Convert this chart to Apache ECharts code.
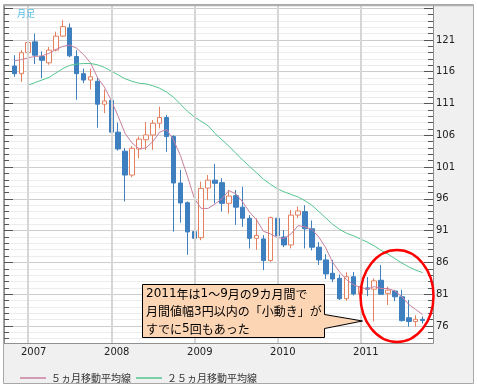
<!DOCTYPE html>
<html><head><meta charset="utf-8">
<script src="https://cdn.jsdelivr.net/npm/echarts@6/dist/echarts.min.js"></script>
<style>html,body{margin:0;padding:0;background:#fff}#c{width:477px;height:387px}</style>
</head><body><div id="c"></div>
<script>
// Months (category axis); first and last are empty padding months
const months = ['2006-10','2006-11','2006-12',
 '2007-01','2007-02','2007-03','2007-04','2007-05','2007-06','2007-07','2007-08','2007-09','2007-10','2007-11','2007-12',
 '2008-01','2008-02','2008-03','2008-04','2008-05','2008-06','2008-07','2008-08','2008-09','2008-10','2008-11','2008-12',
 '2009-01','2009-02','2009-03','2009-04','2009-05','2009-06','2009-07','2009-08','2009-09','2009-10','2009-11','2009-12',
 '2010-01','2010-02','2010-03','2010-04','2010-05','2010-06','2010-07','2010-08','2010-09','2010-10','2010-11','2010-12',
 '2011-01','2011-02','2011-03','2011-04','2011-05','2011-06','2011-07','2011-08','2011-09','2011-10','2011-11'];
// Monthly OHLC, Nov 2006 .. Oct 2011
const open  = [116.9,115.7,119.0,120.7,118.4,117.4,119.4,121.6,122.9,118.4,115.7,114.7,114.5,110.9,
  111.5,106.5,103.5,99.75,103.85,105.3,106.05,107.9,108.8,105.8,98.5,95.4,
  90.85,89.9,97.7,98.95,98.55,95.3,96.5,94.7,92.95,89.8,89.7,86.3,
  92.95,90.0,88.75,93.45,94.0,91.3,88.4,86.4,84.3,83.5,80.3,83.75,
  81.05,82.0,81.8,83.2,81.15,81.5,80.6,77.3,76.7,77.05];
const close = [115.7,119.0,120.6,118.6,117.8,119.4,121.6,123.1,118.5,115.7,114.7,115.2,110.9,111.4,
  106.5,103.85,99.75,103.95,105.4,106.05,107.9,108.8,105.8,98.5,95.35,90.8,
  89.8,97.65,98.95,98.45,95.3,96.45,94.7,92.95,89.8,90.25,86.3,93.05,
  90.2,88.75,93.45,94.1,91.3,88.4,86.4,84.2,83.4,80.3,83.75,81.05,
  82.2,81.8,83.1,81.0,81.65,80.6,76.85,76.7,77.05,76.85];
const low   = [115.2,114.4,118.6,117.2,115.0,117.1,119.2,121.5,118.3,111.6,114.2,113.2,107.2,109.5,
  105.0,103.6,95.6,99.4,102.4,103.7,103.7,107.1,103.4,90.85,92.25,87.2,
  87.2,89.5,95.8,95.3,94.0,93.7,91.9,91.6,88.2,88.0,84.8,86.1,
  89.5,88.4,88.2,93.0,88.2,87.9,85.6,83.4,82.9,80.1,80.0,80.8,
  81.0,80.7,76.7,80.9,79.3,79.9,76.7,75.9,75.9,76.4];
const high  = [118.6,119.4,122.2,122.0,119.2,119.9,122.3,124.1,123.6,119.4,116.5,116.5,115.1,113.2,
  111.9,108.0,104.0,104.3,105.8,108.1,108.4,110.5,109.2,106.0,100.55,95.6,
  94.0,98.7,99.75,101.5,99.25,97.4,97.4,97.9,93.45,92.95,90.3,93.2,
  93.8,91.1,94.25,94.8,95.0,92.6,89.2,87.3,86.4,84.1,84.45,84.5,
  82.7,83.7,83.5,85.6,82.2,81.7,81.7,80.1,77.7,77.5];
// 5-month and 25-month moving averages
const ma5 = [117.7,117.9,118.2,118.4,118.5,118.9,119.5,120.0,120.2,119.7,118.7,117.4,115.1,113.6,
  111.5,109.0,106.3,104.8,103.9,104.0,105.0,106.5,106.9,105.3,102.8,99.6,
  96.1,94.5,94.5,95.2,96.0,97.3,96.8,95.5,93.9,92.7,90.9,90.5,
  89.9,89.8,90.5,91.8,91.6,91.2,90.0,88.3,86.0,84.5,83.3,82.5,
  82.1,81.8,82.2,81.9,81.9,81.5,80.6,79.4,78.6,77.8];
const ma25 = [null,null,113.9,114.3,114.7,115.1,115.8,116.5,117.0,117.2,117.3,117.3,117.1,116.7,
  116.1,115.5,114.9,114.5,114.2,114.1,113.8,113.4,112.8,112.0,110.9,109.8,
  108.9,108.2,107.5,106.3,105.3,104.3,103.2,102.1,101.1,100.1,99.1,98.3,
  97.6,97.1,96.7,96.3,95.7,95.0,94.0,93.0,92.0,91.2,90.6,90.2,
  89.7,89.2,88.6,87.9,87.3,86.6,85.9,85.3,84.8,84.4];
const yearLabels = ['2007','2008','2009','2010','2011'];

const candles = ['-'].concat(open.map((o,i)=>[o, close[i], low[i], high[i]]), ['-']);
const padN = a => [null].concat(a, [null]);

const chart = echarts.init(document.getElementById('c'), null, {renderer:'canvas'});
const tickStyle = {color:'#555', width:1};
const yBase = {
  type:'value', min:71, max:126.5, interval:5,
  axisLine:{show:true, lineStyle:{color:'#8c8c8c', width:1}},
  axisTick:{show:true, inside:true, length:9, lineStyle:tickStyle},
  minorTick:{show:true, splitNumber:5, length:5, lineStyle:tickStyle}
};
chart.setOption({
  animation:false,
  backgroundColor:'#ffffff',
  grid:{left:4, right:44, top:5, bottom:29.2, show:true, backgroundColor:'#ffffff', borderWidth:0},
  legend:{
    data:['５ヵ月移動平均線','２５ヵ月移動平均線'],
    left:15, top:368, icon:'rect', itemWidth:26, itemHeight:1.5, itemGap:5,
    textStyle:{fontSize:10, color:'#333', fontFamily:'Noto Sans CJK JP'}
  },
  xAxis:{
    type:'category', data:months, boundaryGap:true, offset:-15, z:100,
    axisLine:{show:false}, axisTick:{show:false}, splitLine:{show:false},
    axisLabel:{
      interval:(i,v)=> v.slice(5)==='01',
      formatter:v=> v.slice(0,4),
      fontSize:10, fontFamily:'DejaVu Sans', color:'#222', margin:5, padding:[0,0,0,11]
    }
  },
  yAxis:[
    Object.assign({}, yBase, {
      position:'right',
      axisLabel:{show:true, margin:3, fontSize:10, fontFamily:'DejaVu Sans', color:'#222',
        formatter:v=> (v>=76 && v<=121 && Math.abs(v-Math.round(v))<1e-6) ? String(v) : ''},
      splitLine:{show:true, lineStyle:{color:'#cdcdcd', width:1}},
      minorSplitLine:{show:true, lineStyle:{color:'#ececec', width:1}}
    }),
    Object.assign({}, yBase, {
      position:'left', axisLabel:{show:false}, splitLine:{show:false}
    })
  ],
  series:[
    {
      type:'line', data:padN(new Array(60).fill(null)), z:1, silent:true, symbol:'none',
      markLine:{
        silent:true, symbol:['none','none'], label:{show:false},
        lineStyle:{color:'#d6d6d6', width:2, type:'solid'},
        data: yearLabels.map(y=>({xAxis: y+'-01'}))
      }
    },
    {
      type:'candlestick', name:'月足', data:candles, barWidth:5, z:3,
      itemStyle:{color:'#ffffff', color0:'#3d7fbf', borderColor:'#e5805f', borderColor0:'#3d7fbf', borderWidth:1}
    },
    {
      type:'line', name:'５ヵ月移動平均線', data:padN(ma5), symbol:'none', z:4,
      lineStyle:{color:'#c97f9f', width:1}, itemStyle:{color:'#c97f9f'}
    },
    {
      type:'line', name:'２５ヵ月移動平均線', data:padN(ma25), symbol:'none', z:4,
      lineStyle:{color:'#55c690', width:1}, itemStyle:{color:'#55c690'}
    }
  ],
  graphic:[
    {type:'rect', z:-100, shape:{x:3.5, y:4.5, width:470, height:379},
      style:{fill:'#f0f0f0', stroke:'#a8a8a8', lineWidth:1}},
    {type:'rect', z:50, shape:{x:4, y:343.5, width:430, height:15.5}, style:{fill:'#f0f0f0'}},
    {type:'line', z:51, shape:{x1:4, y1:343.5, x2:433.5, y2:343.5}, style:{stroke:'#909090', lineWidth:1}},
    {type:'line', z:51, shape:{x1:4, y1:5.5, x2:473, y2:5.5}, style:{stroke:'#b0b0b0', lineWidth:1.5}},
    {type:'text', z:60, x:17, y:9, style:{text:'月足', fill:'#56bde8', fontSize:9, fontFamily:'Noto Sans CJK JP'}},
    {type:'polygon', z:60, shape:{points:[[142.5,284.5],[324.5,284.5],[324.5,314.5],[362.5,321],[324.5,328.5],[324.5,337.5],[142.5,337.5]]},
      style:{fill:'#fcd5b5', stroke:'#000', lineWidth:1}},
    {type:'text', z:61, x:146, y:285.5, style:{
      text:'{d|2011}年は{d|1}～{d|9}月の{d|9}カ月間で\n月間値幅{d|3}円以内の「小動き」が\nすでに{d|5}回もあった',
      fill:'#000', fontSize:12, lineHeight:17.5, fontFamily:'Noto Sans CJK JP',
      rich:{d:{fontFamily:'DejaVu Sans', fontSize:12, lineHeight:17.5, fill:'#000'}}}},
    {type:'ellipse', z:62, shape:{cx:397, cy:296, rx:36.5, ry:46}, style:{fill:'none', stroke:'#ff0000', lineWidth:2.5}}
  ]
});
</script></body></html>
